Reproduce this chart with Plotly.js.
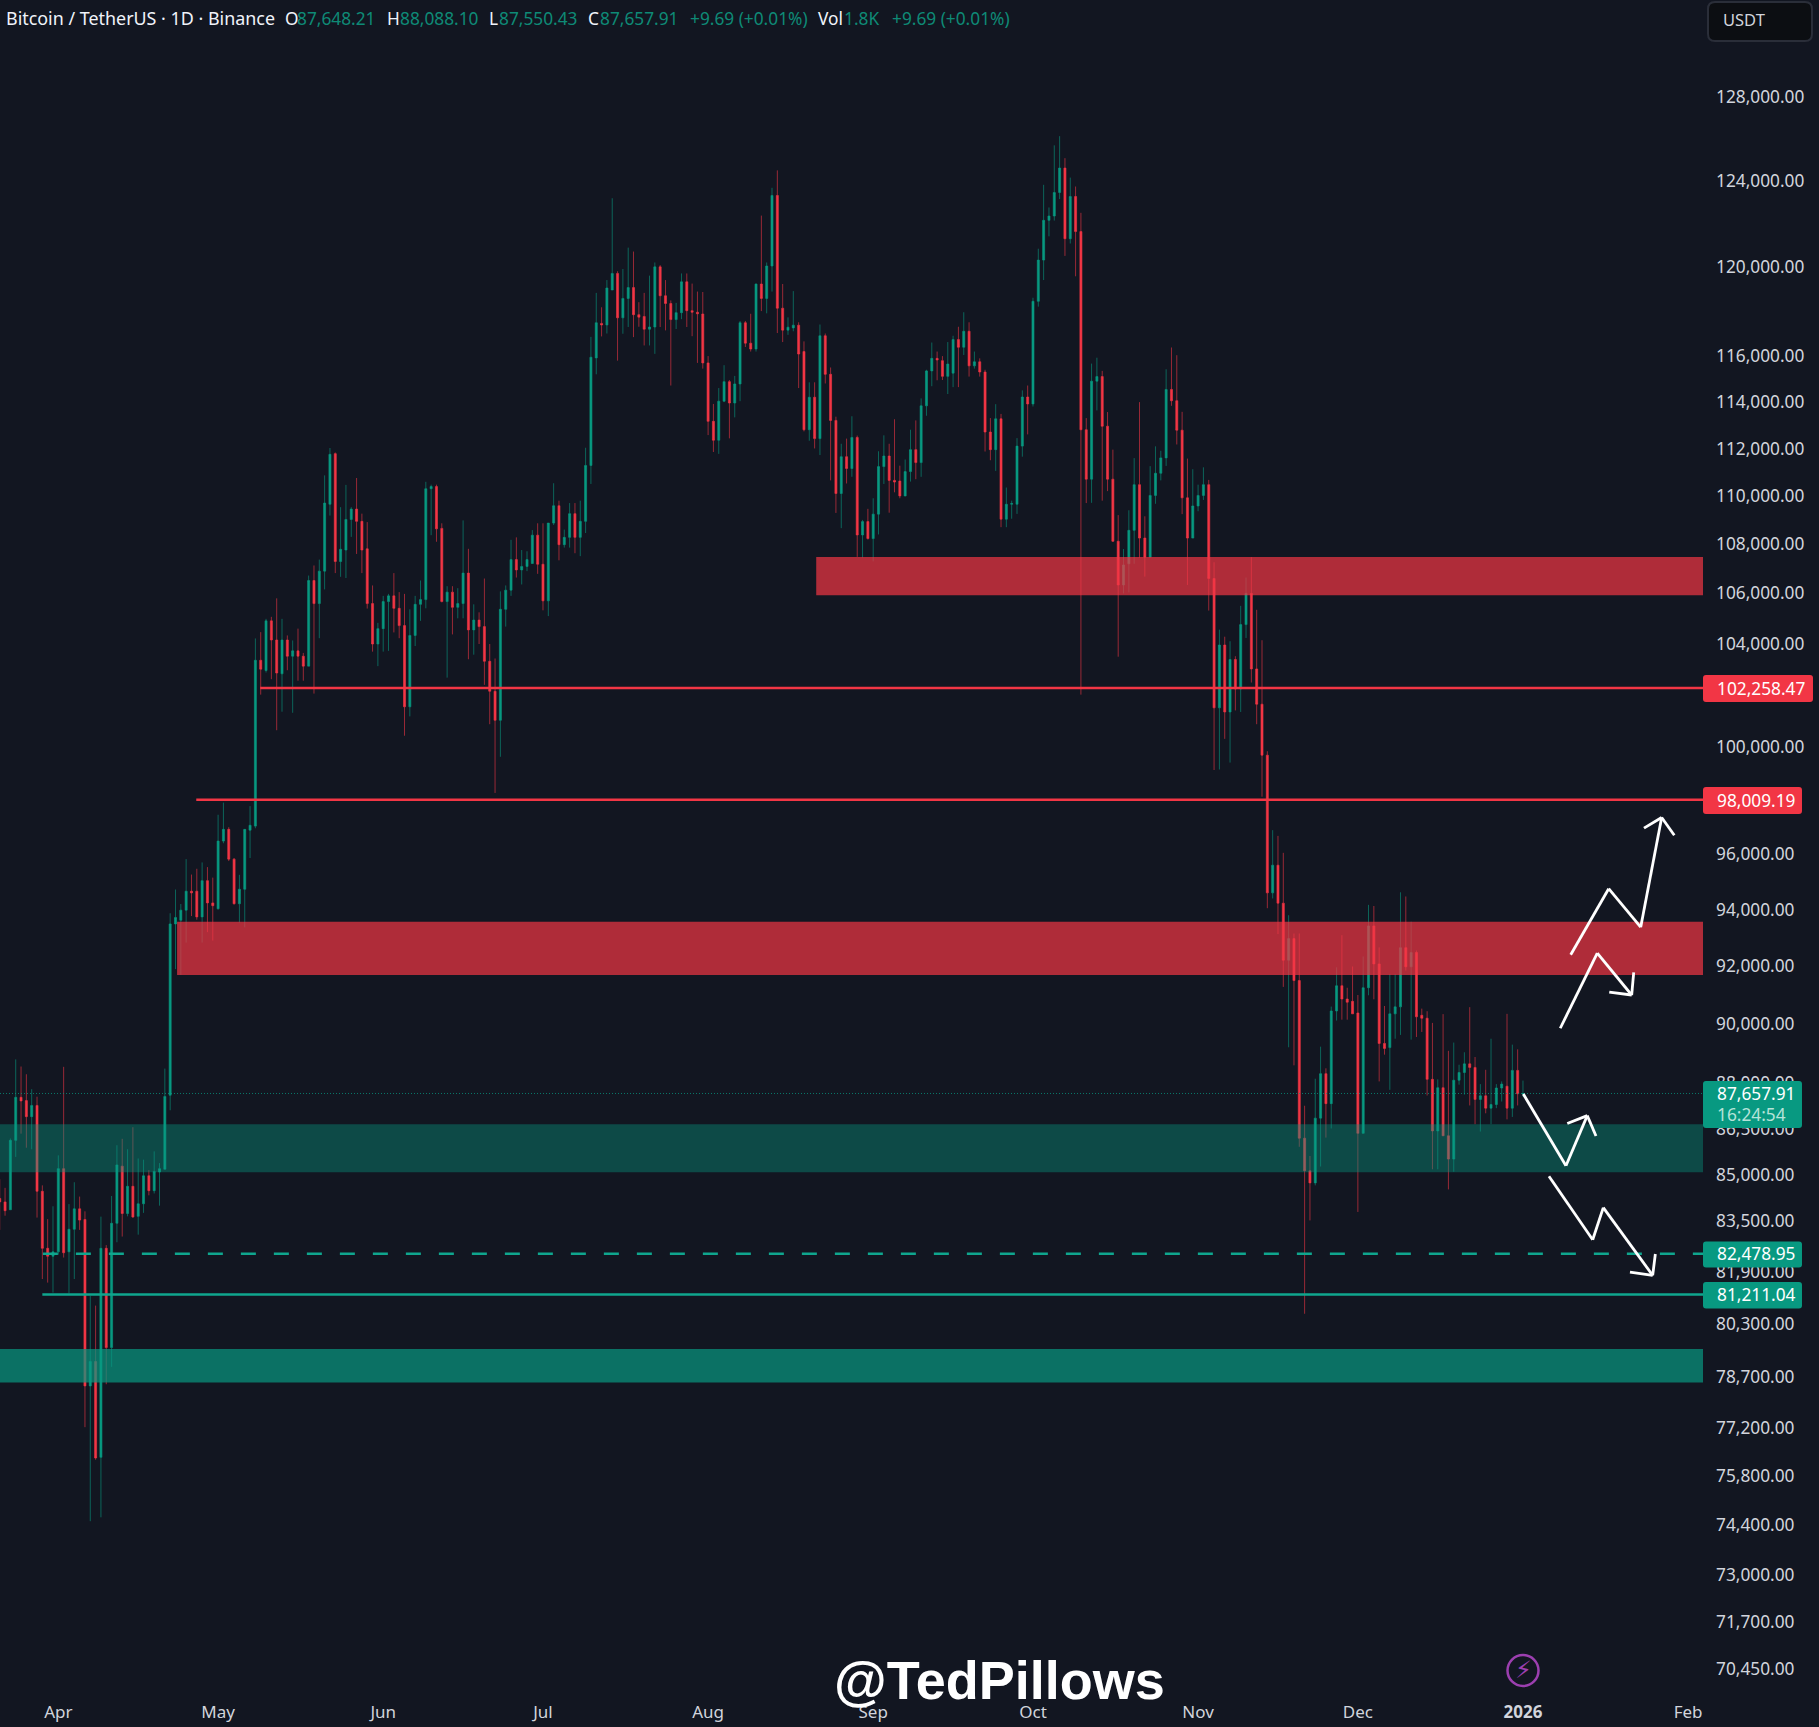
<!DOCTYPE html>
<html><head><meta charset="utf-8">
<script src="https://cdn.plot.ly/plotly-3.0.1.min.js"></script>
<style>html,body{margin:0;padding:0;background:#121621}</style></head>
<body><div id="chart" style="width:1819px;height:1727px"></div>
<script>
// Daily candles: each row is [open, high, low, close]
const firstCandle = "2025-03-21";
const mar = [[84230,84850,83230,84120],[84120,84570,83680,83840],[83870,86170,83870,86110],[86110,88800,85570,87530],[87530,88560,86330,87410],[87420,88300,85870,86890],[86890,87800,85820,87260],[87260,87550,83620,84460],[84460,84650,81690,82650],[82650,83570,81580,82400],[82400,83980,81270,82540]];
const apr = [[82540,85620,82450,85190],[85190,88550,82360,82510],[82540,84050,81250,83250],[83250,84750,81690,83900],[83900,84290,83230,83540],[83560,83820,77220,78440],[78440,81170,74510,79170],[79170,80870,76270,76320],[76340,83650,74620,82650],[82650,82750,78490,79590],[79590,84310,79010,83440],[83440,85950,82840,85310],[85270,86160,83020,83750],[83750,85820,83660,84620],[84620,86540,83610,83640],[83660,85520,83080,84060],[84060,85480,83770,84960],[84960,85140,84330,84480],[84480,85750,84390,85100],[85080,85370,84000,85190],[85170,88490,85170,87560],[87600,93870,87100,93490],[93490,94720,91900,93720],[93620,94200,91700,93980],[93980,95820,92830,94660],[94660,95260,93770,94600],[94660,95470,93640,93740],[93740,95700,92830,95040],[95040,95530,93200,94240],[94240,95150,92900,94140]];
const may = [[94030,97450,94000,96480],[96480,97900,96400,96910],[96910,96990,95750,95820],[95820,95860,94180,94210],[94210,95250,93540,94730],[94730,96910,93370,96910],[96880,97770,95860,97060],[97030,104200,96950,103340],[103340,104450,102000,102990],[102940,104980,102860,104900],[104900,105060,102600,104140],[104140,105800,100630,102840],[102810,104980,101340,104140],[104140,104320,102950,103500],[103500,104120,101300,103710],[103710,104590,102540,103500],[103500,103630,102540,103110],[103110,106720,103110,106520],[106520,107130,102040,105590],[105590,107370,104210,106900],[106900,110860,106160,109700],[109650,112020,109180,111750],[111780,111830,106820,107290],[107290,109530,106670,107790],[107760,110460,106620,109020],[109020,109530,108300,109450],[109450,110750,107600,108940],[108940,109260,106820,107760],[107810,108910,105390,105590],[105590,106320,103680,103980],[103980,104820,103110,104590]];
const jun = [[104590,105900,103680,105670],[105670,105980,103710,105900],[105900,106820,104440,105400],[105400,106050,104210,104710],[104710,105980,100420,101530],[101530,105360,101160,104320],[104320,105900,103900,105560],[105560,106520,104900,105750],[105750,110590,105400,110300],[110300,110470,108370,110390],[110390,110470,108100,108630],[108650,108860,105640,105670],[105670,106290,102660,106050],[106050,106290,104360,105440],[105440,106210,105000,105590],[105590,108980,105000,106820],[106820,107810,103380,104540],[104540,105560,103560,104930],[104930,105240,103980,104670],[104670,106600,102380,103300],[103300,103980,100860,102130],[102130,103410,98260,101010],[101010,106080,99620,105360],[105360,106320,104670,106130],[106130,108180,105900,107370],[107370,108280,106640,106950],[106950,107760,106360,107090],[107090,107710,106900,107370],[107210,108580,107210,108370],[108370,108860,106790,107180]];
const jul = [[107180,108860,105320,105700],[105700,108870,105090,108870],[108870,110530,108790,109590],[109590,109800,107340,107980],[107980,108600,107860,108280],[108280,109700,107860,109260],[109260,109700,107630,108280],[108280,109800,107510,108940],[108940,112030,108460,111280],[111280,116850,110500,115950],[115920,118820,115200,117480],[117450,118170,116870,117380],[117380,119400,117000,119040],[118950,123170,118950,119700],[119700,119800,115800,117700],[117700,119900,116990,118570],[118570,120880,117290,119060],[119060,120700,116840,117840],[117840,118400,117300,117730],[117760,118820,116470,117190],[117190,119600,116470,117290],[117290,120200,116100,120000],[120000,120080,117290,118690],[118690,119400,117140,118340],[118340,118480,114710,117620],[117620,118370,117200,117930],[117930,119700,117640,119320],[119320,119700,117290,118020],[118020,119240,116880,117950],[117950,118880,115700,117880],[117870,118860,115450,115700]];
const aug = [[115700,116000,112570,113160],[113160,113910,111850,112350],[112350,114600,111770,114030],[114030,115600,113990,114880],[114880,114950,112430,113950],[113950,115130,113330,114780],[114780,117560,114030,117480],[117480,117560,116400,116570],[116570,117880,116200,116310],[116310,119240,116200,119220],[119220,122360,118000,118570],[118570,120200,117900,120040],[120040,123660,118880,123300],[123300,124480,117020,118130],[118130,119220,116620,117150],[117150,117720,116940,117280],[117250,118900,117100,117370],[117370,117500,114600,116090],[116200,116650,112730,112800],[112800,114850,112330,114200],[114200,114850,112000,112420],[112420,117400,111720,116900],[116900,117000,114800,115200],[115200,115500,110650,113200],[113200,113360,109290,110100],[110100,112200,108660,111650],[111650,112420,110520,111150],[111150,113380,110800,112470],[112470,112550,107480,108380],[108380,109000,107450,108930],[108930,109460,108190,108230]];
const sep = [[108230,109900,107300,109240],[109240,111880,108400,111230],[111230,112560,110500,111680],[111680,112200,109300,110650],[110650,113250,110150,110580],[110620,111270,109900,110000],[110000,111530,109980,111020],[111020,112800,110600,111950],[111950,113200,110700,111400],[111400,114150,110800,113830],[113830,115400,113400,115350],[115350,116600,114680,115900],[115900,116200,114940,115830],[115800,116000,114950,115110],[115110,116620,114340,115650],[115250,116900,114640,116730],[116730,117300,114640,116390],[116390,117950,116050,117100],[117100,117500,115100,115570],[115570,116200,115450,115750],[115750,115900,115100,115300],[115300,115400,111870,112700],[112700,113300,111500,111950],[111950,113900,111050,113270],[113270,113480,108700,109030],[109030,110350,108700,109650],[109650,109800,109050,109680],[109650,112440,109250,112100],[112100,114500,111650,114210],[114210,114710,112600,113910]];
const oct = [[113910,118600,113800,118440],[118440,120830,118200,120310],[120310,123800,119400,122140],[122140,122740,121400,122340],[122340,125670,122130,123440],[123440,126110,123130,124590],[124590,125060,120500,121290],[121290,124140,121070,123250],[123250,123720,119570,121620],[121620,122490,102000,112800],[112800,113300,109700,110700],[110700,115670,109710,114900],[114900,115930,113630,115100],[115100,115350,109800,112950],[112950,113560,110200,110700],[110700,111950,108090,108120],[108120,109200,103480,106340],[106340,107800,106000,107150],[107200,109400,106040,108570],[108570,111590,107200,110470],[110470,113990,107450,108250],[108250,109150,106680,107470],[107470,111250,107470,110020],[110020,112090,109670,110950],[110950,111900,110650,111600],[111600,115420,111260,114540],[114540,116380,113830,114050],[114050,116040,112170,112780],[112780,113570,109240,109920],[109920,111570,106340,108250],[108250,111120,108250,109580]];
const nov = [[109580,110470,109360,110020],[110020,111200,109830,110470],[110470,110670,105310,106600],[106600,107260,99120,101490],[101490,104550,99140,103940],[103940,104270,100300,101330],[101330,104090,99400,103370],[103370,103500,101390,102220],[102220,105500,101330,104750],[104750,106640,104220,106000],[106000,107470,102470,103000],[103000,105340,100860,101630],[101630,104130,98120,99680],[99680,99830,94050,94600],[94600,96880,94400,95600],[95600,96670,93130,94230],[94230,96050,91280,92210],[92210,93800,89210,92970],[92970,93150,88600,91500],[91500,93150,85900,86180],[86180,87250,80620,85120],[85120,85600,83530,84730],[84730,88150,84650,86840],[86840,89230,85260,88320],[88320,88500,86200,87320],[87320,90600,86500,90450],[90450,91960,90120,91320],[91320,93090,90150,90860],[90860,91250,90150,90750],[90780,91990,90350,90350]];
const dec = [[90380,91000,83800,86340],[86340,92340,86340,91250],[91250,94170,90990,93420],[93420,94130,90850,92080],[92080,92660,88060,89340],[89340,90620,88960,89170],[89200,91720,87780,90350],[90350,91720,89500,90590],[90590,94620,89630,92650],[92650,94470,91850,91980],[91980,93570,89470,92480],[92480,92550,89560,90250],[90300,90530,89730,90200],[90200,90440,87590,88130],[88130,90040,85170,86420],[86420,88130,85170,87850],[87850,90340,86260,86260],[86260,89090,84520,85500],[85500,89370,85090,88100],[88100,88620,87950,88360],[88360,89040,87620,88650],[88650,90580,87260,88530],[88530,88880,86640,87460],[87460,87970,86400,87580],[87580,88450,87000,87170],[87170,89500,86640,87290],[87290,87970,87170,87840],[87840,88060,87390,87970],[87900,90350,86800,87170],[87170,89300,86880,88430],[88430,89140,87260,87648.21]];
const jan = [[87648.21,88088.10,87550.43,87657.91]];

// Price axis
const priceTicks = [128000,124000,120000,116000,114000,112000,110000,108000,106000,104000,100000,96000,94000,92000,90000,88000,86500,85000,83500,81900,80300,78700,77200,75800,74400,73000,71700,70450];
// Time axis
const monthDates = ["2025-04-01","2025-05-01","2025-06-01","2025-07-01","2025-08-01","2025-09-01","2025-10-01","2025-11-01","2025-12-01","2026-01-01","2026-02-01"];
const monthLabels = ["Apr","May","Jun","Jul","Aug","Sep","Oct","Nov","Dec","<b>2026</b>","Feb"];

// Levels and zones (prices)
const resistanceUpper = [105925,107480];
const resistanceLower = [91695,93565];
const supportUpper = [85075,86640];
const supportLower = [78540,79550];
const levelA = 102258.47, levelB = 98009.19, levelC = 82478.95, levelD = 81211.04, lastPrice = 87657.91;

// Hand-drawn arrows: days after 2026-01-01 and prices
const arrowUpDays = [8.96,16.09,22.1,26.04], arrowUpPrices = [92403,94750,93376,97348];
const arrowUpHeadDays = [22.72,26.04,28.41], arrowUpHeadPrices = [96954,97348,96692];
const arrowMidDays = [7.0,13.95,20.41], arrowMidPrices = [89857,92456,90999];
const arrowMidHeadDays = [16.2,20.41,20.79], arrowMidHeadPrices = [91101,90999,91783];
const arrowBounceDays = [0.06,8.07,12.07], arrowBouncePrices = [87640,85283,86922];
const arrowBounceHeadDays = [8.32,12.07,13.71], arrowBounceHeadPrices = [86662,86922,86252];
const arrowDropDays = [4.88,13.09,15.08,24.35], arrowDropPrices = [84946,82921,83939,81805];
const arrowDropHeadDays = [20.09,24.35,24.85], arrowDropHeadPrices = [81905,81805,82472];

const rows = [].concat(mar,apr,may,jun,jul,aug,sep,oct,nov,dec,jan);
const DAY = 86400000, T0 = Date.UTC(2026,0,1);
const iso = ms => new Date(ms).toISOString().slice(0,19).replace("T"," ");
const fromJan1 = d => iso(T0 + d*DAY);
const start = Date.parse(firstCandle+"T00:00:00Z");
const dates = rows.map((r,i)=>iso(start+i*DAY));
const open = rows.map(r=>r[0]), high = rows.map(r=>r[1]), low = rows.map(r=>r[2]), close = rows.map(r=>r[3]);

const W = 1703, H = 1695;
const px = x => x/W, py = y => 1-y/H;
const UP = "#089981", DOWN = "#f23645";

const candles = {type:"candlestick", x:dates, open, high, low, close, hoverinfo:"skip", showlegend:false,
  increasing:{line:{color:"rgba(8,153,129,0.6)",width:1},fillcolor:UP},
  decreasing:{line:{color:"rgba(242,54,69,0.6)",width:1},fillcolor:DOWN}};

const xStart = fromJan1(-285.95), xEnd = fromJan1(33.8);
const zone = (x0,band,color) => ({type:"rect",xref:"x",yref:"y",x0,x1:xEnd,y0:band[0],y1:band[1],fillcolor:color,line:{width:0},layer:"above"});
const level = (x0,y,color,dash) => ({type:"line",xref:"x",yref:"y",x0,x1:xEnd,y0:y,y1:y,line:{color,width:2.4,dash:dash||"solid"},layer:"above"});
const tagPath = (x0,y0,x1,y1,r) => {
  const X=v=>px(v).toFixed(5), Y=v=>py(v).toFixed(5);
  return `M${X(x0+r)} ${Y(y0)} L${X(x1-r)} ${Y(y0)} Q${X(x1)} ${Y(y0)} ${X(x1)} ${Y(y0+r)} L${X(x1)} ${Y(y1-r)} Q${X(x1)} ${Y(y1)} ${X(x1-r)} ${Y(y1)} L${X(x0+r)} ${Y(y1)} Q${X(x0)} ${Y(y1)} ${X(x0)} ${Y(y1-r)} L${X(x0)} ${Y(y0+r)} Q${X(x0)} ${Y(y0)} ${X(x0+r)} ${Y(y0)} Z`;
};
const tag = (x0,y0,x1,y1,c) => ({type:"path",xref:"paper",yref:"paper",path:tagPath(x0,y0,x1,y1,3),fillcolor:c,line:{width:0},layer:"above"});
// Each arrow is drawn segment by segment above the zones
const arrow = (days,prices) => days.slice(1).map((d,i)=>({type:"line",xref:"x",yref:"y",
  x0:fromJan1(days[i]),x1:fromJan1(d),y0:prices[i],y1:prices[i+1],line:{color:"#ffffff",width:2.8},layer:"above"}));

const shapes = [
  {type:"line",xref:"paper",yref:"y",x0:0,x1:1,y0:lastPrice,y1:lastPrice,line:{color:"rgba(8,153,129,0.75)",width:1,dash:"1px,2px"},layer:"above"},
  zone(fromJan1(-132.7),resistanceUpper,"rgba(242,54,69,0.7)"),
  zone(fromJan1(-252.7),resistanceLower,"rgba(242,54,69,0.7)"),
  zone(xStart,supportUpper,"rgba(8,153,129,0.4)"),
  zone(xStart,supportLower,"rgba(8,153,129,0.7)"),
  level(fromJan1(-237.1),levelA,DOWN),
  level(fromJan1(-249.1),levelB,DOWN),
  level(fromJan1(-277.9),levelC,"#0fa68e","15px,18px"),
  level(fromJan1(-278),levelD,"#0fa68e"),
  ...arrow(arrowUpDays,arrowUpPrices),...arrow(arrowUpHeadDays,arrowUpHeadPrices),
  ...arrow(arrowMidDays,arrowMidPrices),...arrow(arrowMidHeadDays,arrowMidHeadPrices),
  ...arrow(arrowBounceDays,arrowBouncePrices),...arrow(arrowBounceHeadDays,arrowBounceHeadPrices),
  ...arrow(arrowDropDays,arrowDropPrices),...arrow(arrowDropHeadDays,arrowDropHeadPrices),
  tag(1703,675,1813,702,DOWN),
  tag(1703,787,1802,814,DOWN),
  tag(1703,1081,1802,1128,UP),
  tag(1703,1241.5,1802,1267.5,UP),
  tag(1703,1282,1802,1308.5,UP),
  {type:"path",xref:"paper",yref:"paper",path:tagPath(1708,2,1812,41,7),fillcolor:"#0c0e12",line:{color:"#2a2e39",width:2},layer:"above"},
  {type:"circle",xref:"paper",yref:"paper",x0:px(1507.5),x1:px(1538.5),y0:py(1655),y1:py(1686),fillcolor:"rgba(0,0,0,0)",line:{color:"#9c3fb0",width:2.5},layer:"above"}
];

const FONT="Noto Sans", GREY="#d1d4dc", GTX="#0e8a76", WHITE="#f0f3fa";
const note = (x,y,text,o={}) => Object.assign({xref:"paper",yref:"paper",x:px(x),y:py(y),xanchor:"left",yanchor:"middle",text,showarrow:false,borderpad:0,
  font:{family:FONT,size:16,color:GREY}},o);
const hdr = (x,text,color,size) => note(x,18.5,text,{font:{family:FONT,size:size||17.3,color}});
const tagText = (y,text,color) => note(1715.5,y,text,{font:{family:FONT,size:17.3,color:color||"#ffffff"}});
const annotations = [
  hdr(5,"Bitcoin / TetherUS · 1D · Binance",WHITE,17.9),
  hdr(284,"O",WHITE),hdr(296,"87,648.21",GTX),
  hdr(386,"H",WHITE),hdr(399,"88,088.10",GTX),
  hdr(488,"L",WHITE),hdr(498,"87,550.43",GTX),
  hdr(587,"C",WHITE),hdr(599,"87,657.91",GTX),
  hdr(689,"+9.69 (+0.01%)",GTX),
  hdr(817,"Vol",WHITE),hdr(843,"1.8K",GTX),
  hdr(891,"+9.69 (+0.01%)",GTX),
  note(1722,20,"USDT",{font:{family:FONT,size:16.5,color:GREY}}),
  tagText(688,"102,258.47"),
  tagText(800,"98,009.19"),
  tagText(1093,"87,657.91"),
  tagText(1114.5,"16:24:54","#b5e3d9"),
  tagText(1253.5,"82,478.95"),
  tagText(1294.5,"81,211.04"),
  note(833,1680,"@TedPillows",{font:{family:"Liberation Sans",size:54,color:"#ffffff",weight:700}}),
  note(1523,1670,"⚡",{xanchor:"center",font:{family:"DejaVu Sans",size:24,color:"#9c3fb0"}})
];

const layout = {width:1819,height:1727,margin:{l:0,r:116,t:0,b:32},paper_bgcolor:"#121621",plot_bgcolor:"#121621",showlegend:false,hovermode:false,
  annotations,shapes,boxgap:0.45,
  xaxis:{type:"date",range:[xStart,xEnd],rangeslider:{visible:false},showgrid:false,zeroline:false,showline:false,ticks:"",
    tickmode:"array",tickvals:monthDates,ticktext:monthLabels,ticklabelstandoff:5,tickfont:{family:FONT,size:17,color:GREY},tickangle:0},
  yaxis:{type:"log",side:"right",range:[Math.log10(69749),Math.log10(132805)],showgrid:false,zeroline:false,showline:false,ticks:"",
    tickmode:"array",tickvals:priceTicks,ticktext:priceTicks.map(v=>v.toLocaleString("en-US",{minimumFractionDigits:2,maximumFractionDigits:2})),
    ticklabelstandoff:12,tickfont:{family:FONT,size:17.3,color:GREY}}
};
Plotly.newPlot("chart",[candles],layout,{displayModeBar:false,staticPlot:true});
</script></body></html>
